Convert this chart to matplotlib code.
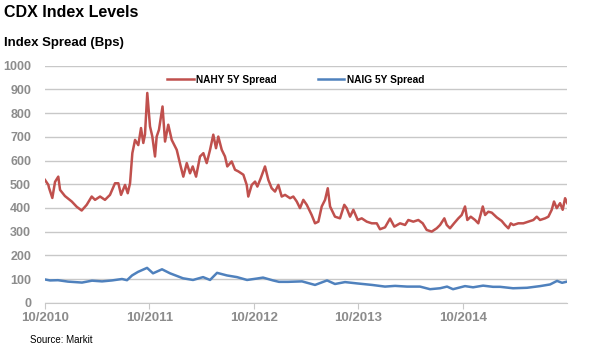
import numpy as np
import matplotlib.pyplot as plt

# NAHY 5Y spread (bps), dates as decimal years
hy_t = [2010.750, 2010.782, 2010.788, 2010.820, 2010.846, 2010.877, 2010.894, 2010.941,
        2011.006, 2011.053, 2011.101, 2011.149, 2011.197, 2011.229, 2011.277, 2011.324,
        2011.372, 2011.420, 2011.452, 2011.478, 2011.516, 2011.542, 2011.564, 2011.586,
        2011.612, 2011.643, 2011.669, 2011.691, 2011.707, 2011.729, 2011.755, 2011.777,
        2011.803, 2011.819, 2011.841, 2011.875, 2011.899, 2011.930, 2011.963, 2012.011,
        2012.049, 2012.074, 2012.107, 2012.138, 2012.164, 2012.196, 2012.234, 2012.266,
        2012.298, 2012.330, 2012.361, 2012.387, 2012.409, 2012.442, 2012.473, 2012.495,
        2012.537, 2012.569, 2012.601, 2012.649, 2012.681, 2012.696, 2012.729, 2012.761,
        2012.783, 2012.815, 2012.856, 2012.888, 2012.920, 2012.952, 2012.984, 2013.016,
        2013.048, 2013.096, 2013.127, 2013.160, 2013.191, 2013.223, 2013.256, 2013.303,
        2013.335, 2013.367, 2013.399, 2013.431, 2013.457, 2013.479, 2013.526, 2013.574,
        2013.615, 2013.638, 2013.670, 2013.702, 2013.744, 2013.782, 2013.830, 2013.878,
        2013.926, 2013.957, 2014.005, 2014.053, 2014.094, 2014.149, 2014.197, 2014.228,
        2014.276, 2014.324, 2014.366, 2014.404, 2014.452, 2014.500, 2014.532, 2014.573,
        2014.596, 2014.627, 2014.666, 2014.707, 2014.739, 2014.771, 2014.793, 2014.826,
        2014.867, 2014.898, 2014.941, 2014.963, 2014.994, 2015.027, 2015.075, 2015.122,
        2015.154, 2015.186, 2015.209, 2015.234, 2015.281, 2015.329, 2015.377, 2015.425,
        2015.458, 2015.489, 2015.537, 2015.569, 2015.601, 2015.623, 2015.649, 2015.681,
        2015.706, 2015.729, 2015.750]
hy_v = [518, 497, 485, 442, 510, 532, 476, 450,
        427, 405, 389, 413, 448, 434, 448, 434,
        455, 504, 504, 455, 497, 462, 504, 631,
        687, 665, 737, 674, 710, 885, 744, 702,
        617, 701, 730, 828, 680, 751, 687, 645,
        575, 532, 589, 546, 575, 532, 617, 631,
        589, 645, 709, 652, 701, 645, 617, 575,
        596, 561, 554, 540, 497, 448, 497, 511,
        490, 525, 575, 518, 483, 469, 497, 448,
        455, 441, 448, 427, 399, 434, 413, 370,
        335, 342, 406, 434, 483, 406, 363, 356,
        413, 399, 363, 392, 349, 356, 342, 335,
        335, 310, 318, 355, 321, 335, 328, 349,
        342, 349, 335, 307, 300, 314, 328, 356,
        328, 314, 335, 356, 370, 406, 349, 363,
        349, 335, 406, 370, 384, 380, 360, 345,
        328, 314, 335, 328, 335, 335, 342, 349,
        363, 349, 356, 363, 392, 427, 399, 420,
        392, 441, 420]

# NAIG 5Y spread (bps)
ig_t = [2010.750, 2010.798, 2010.874, 2010.970, 2011.104, 2011.200, 2011.296, 2011.391,
        2011.487, 2011.535, 2011.583, 2011.640, 2011.727, 2011.784, 2011.870, 2011.947,
        2012.071, 2012.167, 2012.263, 2012.330, 2012.397, 2012.492, 2012.588, 2012.684,
        2012.780, 2012.837, 2012.933, 2012.990, 2013.076, 2013.210, 2013.335, 2013.450,
        2013.526, 2013.622, 2013.747, 2013.881, 2014.005, 2014.101, 2014.216, 2014.340,
        2014.436, 2014.532, 2014.599, 2014.656, 2014.771, 2014.848, 2014.944, 2015.039,
        2015.107, 2015.231, 2015.365, 2015.489, 2015.585, 2015.652, 2015.700, 2015.748]
ig_v = [98, 94, 95, 89, 85, 93, 90, 94,
        100, 95, 115, 130, 147, 124, 141, 124,
        103, 96, 108, 96, 126, 115, 108, 96,
        102, 106, 94, 88, 88, 90, 75, 94,
        79, 87, 81, 75, 68, 71, 68, 68,
        57, 61, 68, 57, 70, 65, 72, 67,
        67, 61, 63, 70, 77, 92, 84, 89]

xticks = [2010.75, 2011.75, 2012.75, 2013.75, 2014.75]
xlabels = ['10/2010', '10/2011', '10/2012', '10/2013', '10/2014']
yticks = list(range(0, 1001, 100))

plt.rcParams['font.family'] = ['Liberation Sans', 'DejaVu Sans']

fig = plt.figure(figsize=(5.9, 3.55), dpi=100)
ax = fig.add_axes([0.0763, 0.1473, 0.8852, 0.6676])

ax.plot(hy_t, hy_v, color='#C0504D', lw=1.8, label='NAHY 5Y Spread')
ax.plot(ig_t, ig_v, color='#4F81BD', lw=1.8, label='NAIG 5Y Spread')

ax.set_xlim(2010.75, 2015.75)
ax.set_ylim(0, 1000)
ax.set_yticks(yticks)
ax.set_xticks(xticks)
ax.set_xticklabels(xlabels)
ax.grid(axis='y', color='#C8C8C8', lw=1)
ax.set_axisbelow(True)
for s in ['top', 'right', 'left']:
    ax.spines[s].set_visible(False)
ax.spines['bottom'].set_color('#C8C8C8')
ax.tick_params(axis='y', length=0, pad=10, labelsize=9, labelcolor='#8C8C8C')
ax.tick_params(axis='x', length=4, color='#C8C8C8', pad=3, labelsize=9.5, labelcolor='#8C8C8C')
for lbl in ax.get_xticklabels() + ax.get_yticklabels():
    lbl.set_fontweight('bold')

leg = ax.legend(loc='upper center', bbox_to_anchor=(0.48, 1.0), ncol=2, frameon=False,
                prop={'size': 7.3, 'weight': 'bold'}, handlelength=2.6, columnspacing=4.0,
                handletextpad=0.25)

fig.text(0.007, 0.965, 'CDX Index Levels', fontsize=11.5, fontweight='bold', va='center')
fig.text(0.007, 0.878, 'Index Spread (Bps)', fontsize=9.5, fontweight='bold', va='center')
fig.text(0.051, 0.043, 'Source: Markit', fontsize=7, va='center')

fig.savefig('out.png', dpi=100)
